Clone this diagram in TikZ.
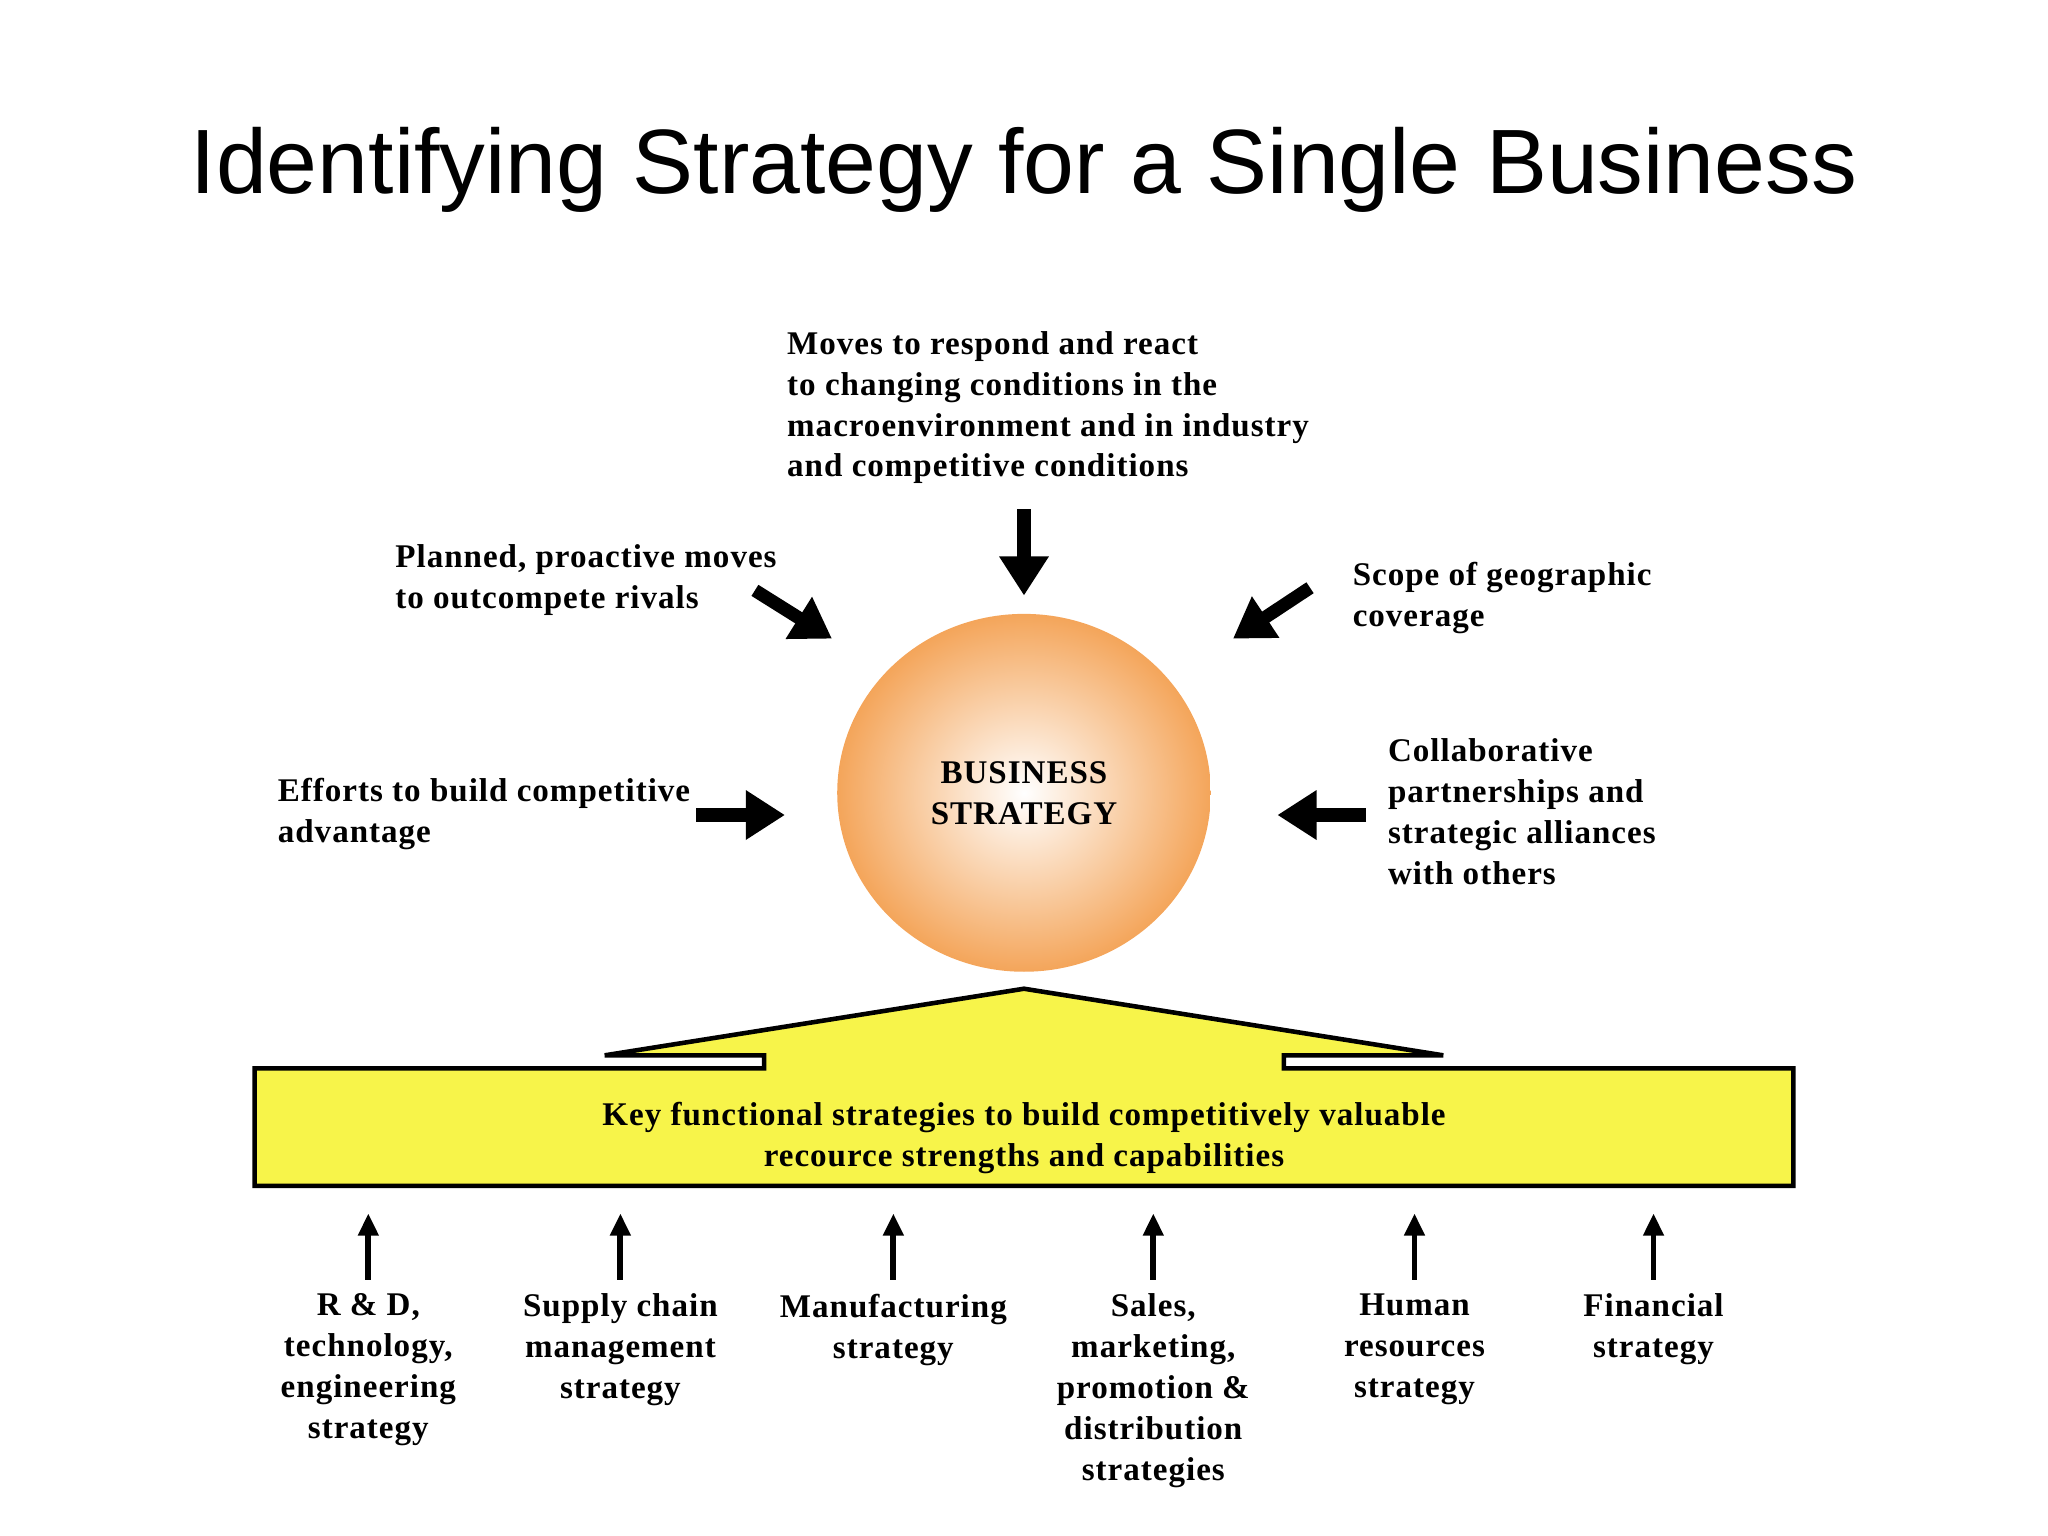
\documentclass[tikz,border=0pt]{standalone}
\usepackage{fontspec}
\setmainfont{Liberation Serif}[LetterSpace=3]
\newfontfamily\titlefont{Liberation Sans}
\usetikzlibrary{arrows.meta}
\begin{document}
\begin{tikzpicture}[x=0.01cm,y=-0.01cm,
  lbl/.style={font=\bfseries\fontsize{7.2}{8.9}\selectfont,align=left,inner sep=0},
  clbl/.style={font=\bfseries\fontsize{7.2}{8.9}\selectfont,align=center,inner sep=0},
  big/.style={line width=0.1cm,-{Triangle[length=0.3cm,width=0.36cm]}},
  small/.style={line width=0.045cm,-{Triangle[length=0.17cm,width=0.15cm]}}]
\useasboundingbox (0,0) rectangle (1568,1176);
\node[font=\titlefont\fontsize{19.9}{23}\selectfont] (title) at (784,130) {Identifying Strategy for a Single Business};
\definecolor{orng}{HTML}{F4A55A}
\shade[inner color=white,outer color=orng] (784,607) ellipse [x radius=143,y radius=137];
\node[clbl] (bs) at (784,607) {BUSINESS\\STRATEGY};
\node[lbl,anchor=north west] (top) at (602,253) {Moves to respond and react\\to changing conditions in the\\macroenvironment and in industry\\and competitive conditions};
\node[lbl,anchor=north west] (pl) at (302,416) {Planned, proactive moves\\to outcompete rivals};
\node[lbl,anchor=north west] (sc) at (1035,430) {Scope of geographic\\coverage};
\node[lbl,anchor=north west] (ef) at (212,595) {Efforts to build competitive\\advantage};
\node[lbl,anchor=north west] (co) at (1062,565) {Collaborative\\partnerships and\\strategic alliances\\with others};
\coordinate (a1) at (784,390); \coordinate (b1) at (784,456);
\coordinate (a2) at (578,452); \coordinate (b2) at (637,489);
\coordinate (a3) at (1003,450); \coordinate (b3) at (944,489);
\coordinate (a4) at (533,624); \coordinate (b4) at (601,624);
\coordinate (a5) at (1046,624); \coordinate (b5) at (978,624);
\foreach \i in {1,...,5} \draw[big] (a\i) -- (b\i);
\definecolor{ylw}{HTML}{F7F44A}
\draw[line width=0.035cm,fill=ylw] (195,818) -- (585,818) -- (585,808) -- (463,808) -- (784,757) -- (1105,808) -- (983,808) -- (983,818) -- (1373,818) -- (1373,908) -- (195,908) -- cycle;
\node[clbl] (key) at (784,871) {Key functional strategies to build competitively valuable\\recource strengths and capabilities};
\foreach \x/\t/\n in {282/{R \& D,\\technology,\\engineering\\strategy}/f1,475/{Supply chain\\management\\strategy}/f2,684/{Manufacturing\\strategy}/f3,883/{Sales,\\marketing,\\promotion \&\\distribution\\strategies}/f4,1083/{Human\\resources\\strategy}/f5,1266/{Financial\\strategy}/f6}{
  \node[clbl,anchor=north] (\n) at (\x,990) {\t};
  \coordinate (c\n) at (\x,980);
  \coordinate (d\n) at (\x,929);
  \draw[small] (c\n) -- (d\n);
}
\end{tikzpicture}
\end{document}
